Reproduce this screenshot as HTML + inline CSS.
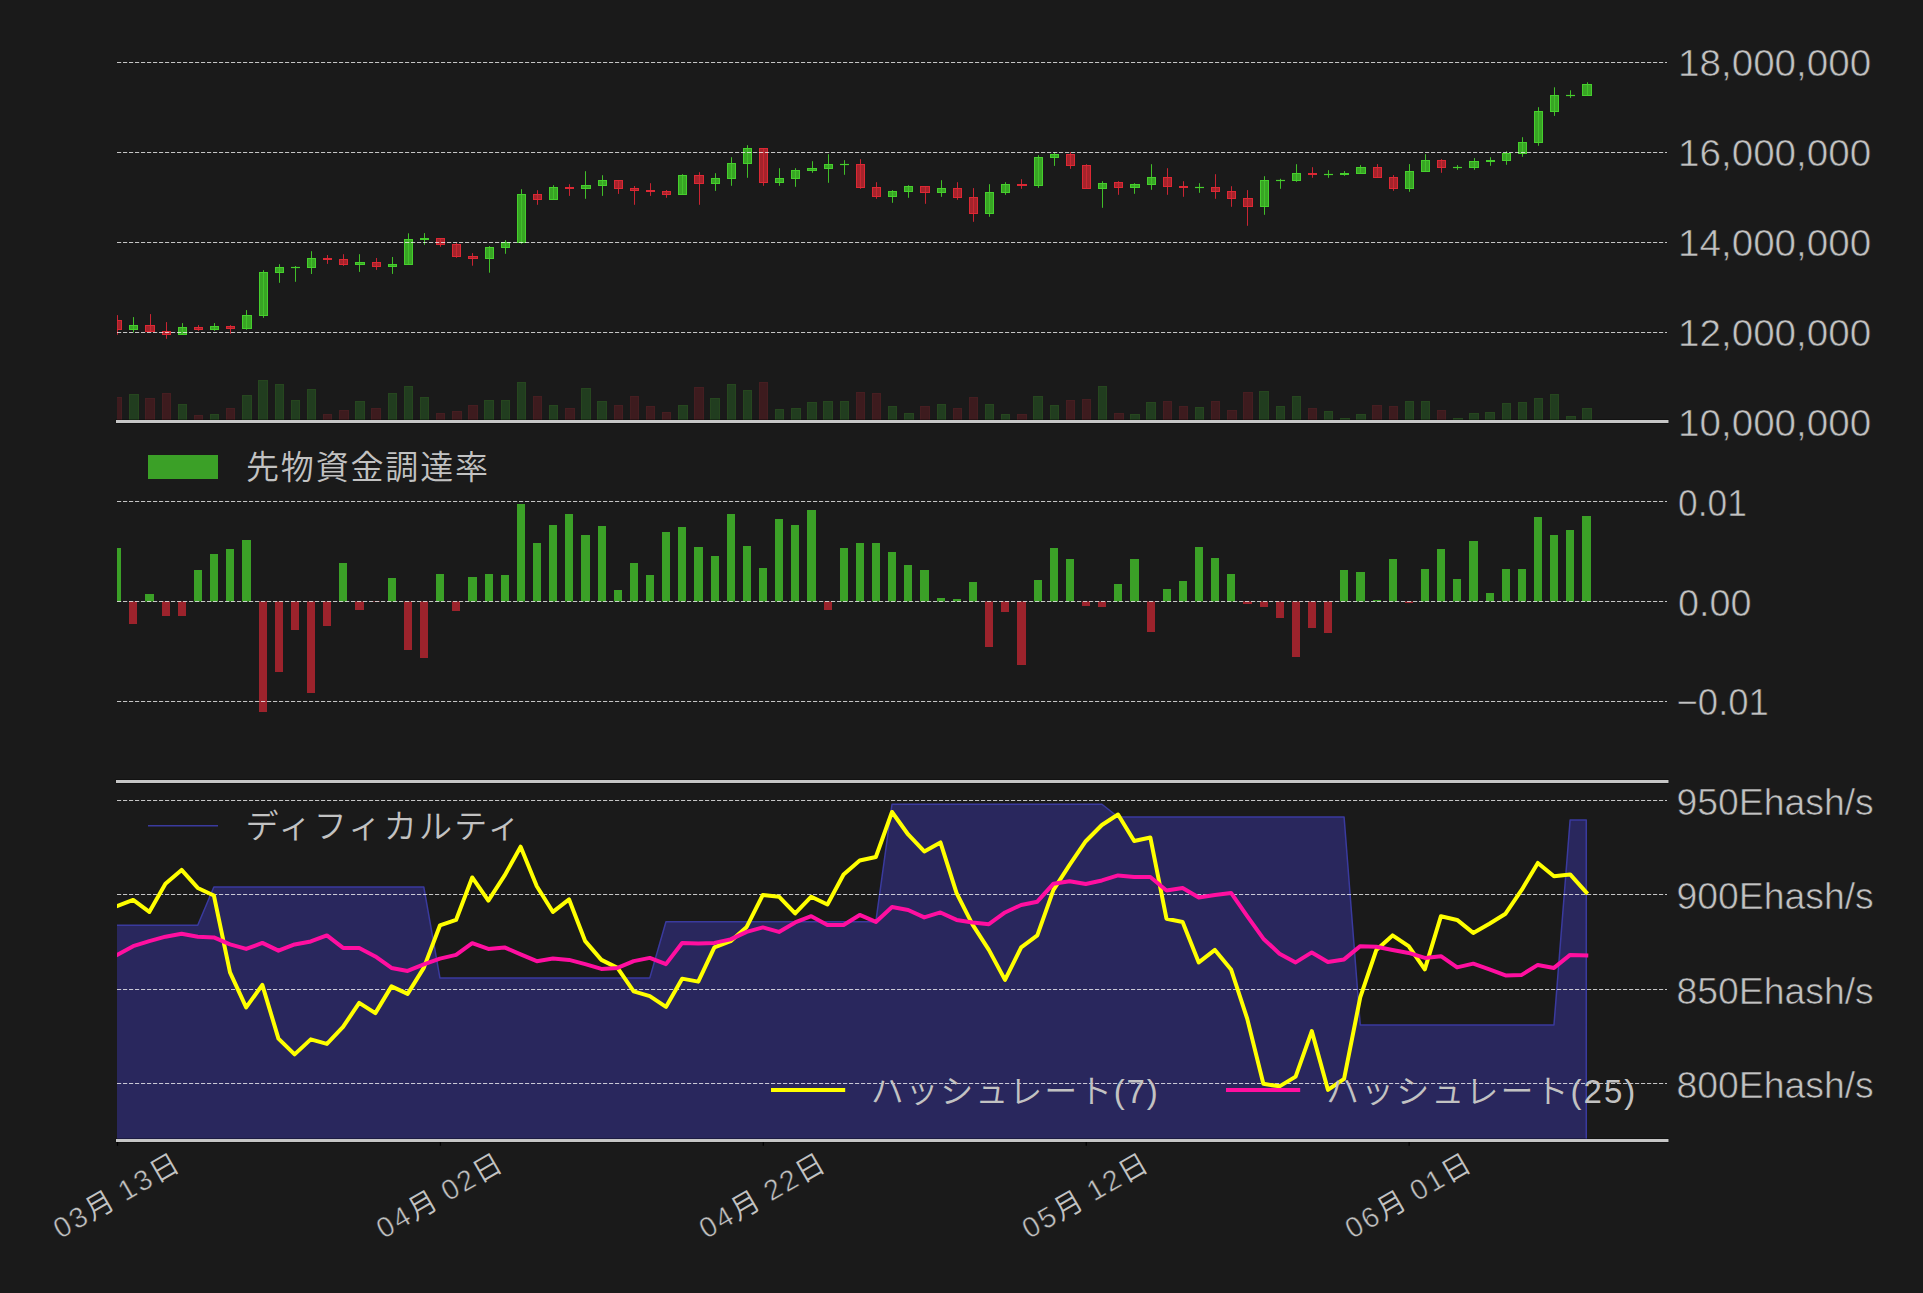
<!DOCTYPE html>
<html lang="ja"><head><meta charset="utf-8"><title>chart</title>
<style>html,body{margin:0;padding:0;background:#1a1a1a;overflow:hidden}svg{display:block}text{font-family:"Liberation Sans", "Noto Sans CJK JP DemiLight", "Noto Sans CJK JP", sans-serif;fill:#c2c2c2}</style>
</head><body>
<svg width="1923" height="1293" viewBox="0 0 1923 1293">
<rect width="1923" height="1293" fill="#1a1a1a"/>
<defs><clipPath id="cp"><rect x="117.0" y="0" width="1550.0" height="1293"/></clipPath></defs>
<g clip-path="url(#cp)">
<rect x="113.5" y="397.5" width="8" height="24.5" fill="#3d1b1e" stroke="#451e21" stroke-width="1"/>
<rect x="129.5" y="394.5" width="9" height="27.5" fill="#213d1f" stroke="#26461f" stroke-width="1"/>
<rect x="145.5" y="398.5" width="9" height="23.5" fill="#3d1b1e" stroke="#451e21" stroke-width="1"/>
<rect x="162.5" y="393.5" width="8" height="28.5" fill="#3d1b1e" stroke="#451e21" stroke-width="1"/>
<rect x="178.5" y="404.5" width="8" height="17.5" fill="#213d1f" stroke="#26461f" stroke-width="1"/>
<rect x="194.5" y="415.5" width="8" height="6.5" fill="#3d1b1e" stroke="#451e21" stroke-width="1"/>
<rect x="210.5" y="414.5" width="8" height="7.5" fill="#213d1f" stroke="#26461f" stroke-width="1"/>
<rect x="226.5" y="408.5" width="8" height="13.5" fill="#3d1b1e" stroke="#451e21" stroke-width="1"/>
<rect x="242.5" y="395.5" width="9" height="26.5" fill="#213d1f" stroke="#26461f" stroke-width="1"/>
<rect x="258.5" y="380.5" width="9" height="41.5" fill="#213d1f" stroke="#26461f" stroke-width="1"/>
<rect x="275.5" y="384.5" width="8" height="37.5" fill="#213d1f" stroke="#26461f" stroke-width="1"/>
<rect x="291.5" y="400.5" width="8" height="21.5" fill="#213d1f" stroke="#26461f" stroke-width="1"/>
<rect x="307.5" y="389.5" width="8" height="32.5" fill="#213d1f" stroke="#26461f" stroke-width="1"/>
<rect x="323.5" y="414.5" width="8" height="7.5" fill="#3d1b1e" stroke="#451e21" stroke-width="1"/>
<rect x="339.5" y="410.5" width="9" height="11.5" fill="#3d1b1e" stroke="#451e21" stroke-width="1"/>
<rect x="355.5" y="401.5" width="9" height="20.5" fill="#213d1f" stroke="#26461f" stroke-width="1"/>
<rect x="371.5" y="408.5" width="9" height="13.5" fill="#3d1b1e" stroke="#451e21" stroke-width="1"/>
<rect x="388.5" y="393.5" width="8" height="28.5" fill="#213d1f" stroke="#26461f" stroke-width="1"/>
<rect x="404.5" y="386.5" width="8" height="35.5" fill="#213d1f" stroke="#26461f" stroke-width="1"/>
<rect x="420.5" y="397.5" width="8" height="24.5" fill="#213d1f" stroke="#26461f" stroke-width="1"/>
<rect x="436.5" y="413.5" width="8" height="8.5" fill="#3d1b1e" stroke="#451e21" stroke-width="1"/>
<rect x="452.5" y="411.5" width="9" height="10.5" fill="#3d1b1e" stroke="#451e21" stroke-width="1"/>
<rect x="468.5" y="405.5" width="9" height="16.5" fill="#3d1b1e" stroke="#451e21" stroke-width="1"/>
<rect x="484.5" y="400.5" width="9" height="21.5" fill="#213d1f" stroke="#26461f" stroke-width="1"/>
<rect x="501.5" y="400.5" width="8" height="21.5" fill="#213d1f" stroke="#26461f" stroke-width="1"/>
<rect x="517.5" y="382.5" width="8" height="39.5" fill="#213d1f" stroke="#26461f" stroke-width="1"/>
<rect x="533.5" y="396.5" width="8" height="25.5" fill="#3d1b1e" stroke="#451e21" stroke-width="1"/>
<rect x="549.5" y="405.5" width="8" height="16.5" fill="#213d1f" stroke="#26461f" stroke-width="1"/>
<rect x="565.5" y="408.5" width="9" height="13.5" fill="#3d1b1e" stroke="#451e21" stroke-width="1"/>
<rect x="581.5" y="388.5" width="9" height="33.5" fill="#213d1f" stroke="#26461f" stroke-width="1"/>
<rect x="597.5" y="401.5" width="9" height="20.5" fill="#213d1f" stroke="#26461f" stroke-width="1"/>
<rect x="614.5" y="405.5" width="8" height="16.5" fill="#3d1b1e" stroke="#451e21" stroke-width="1"/>
<rect x="630.5" y="396.5" width="8" height="25.5" fill="#3d1b1e" stroke="#451e21" stroke-width="1"/>
<rect x="646.5" y="406.5" width="8" height="15.5" fill="#3d1b1e" stroke="#451e21" stroke-width="1"/>
<rect x="662.5" y="412.5" width="8" height="9.5" fill="#3d1b1e" stroke="#451e21" stroke-width="1"/>
<rect x="678.5" y="405.5" width="9" height="16.5" fill="#213d1f" stroke="#26461f" stroke-width="1"/>
<rect x="694.5" y="387.5" width="9" height="34.5" fill="#3d1b1e" stroke="#451e21" stroke-width="1"/>
<rect x="710.5" y="398.5" width="9" height="23.5" fill="#213d1f" stroke="#26461f" stroke-width="1"/>
<rect x="727.5" y="384.5" width="8" height="37.5" fill="#213d1f" stroke="#26461f" stroke-width="1"/>
<rect x="743.5" y="390.5" width="8" height="31.5" fill="#213d1f" stroke="#26461f" stroke-width="1"/>
<rect x="759.5" y="382.5" width="8" height="39.5" fill="#3d1b1e" stroke="#451e21" stroke-width="1"/>
<rect x="775.5" y="409.5" width="8" height="12.5" fill="#213d1f" stroke="#26461f" stroke-width="1"/>
<rect x="791.5" y="408.5" width="9" height="13.5" fill="#213d1f" stroke="#26461f" stroke-width="1"/>
<rect x="807.5" y="402.5" width="9" height="19.5" fill="#213d1f" stroke="#26461f" stroke-width="1"/>
<rect x="823.5" y="401.5" width="9" height="20.5" fill="#213d1f" stroke="#26461f" stroke-width="1"/>
<rect x="840.5" y="401.5" width="8" height="20.5" fill="#213d1f" stroke="#26461f" stroke-width="1"/>
<rect x="856.5" y="392.5" width="8" height="29.5" fill="#3d1b1e" stroke="#451e21" stroke-width="1"/>
<rect x="872.5" y="393.5" width="8" height="28.5" fill="#3d1b1e" stroke="#451e21" stroke-width="1"/>
<rect x="888.5" y="406.5" width="8" height="15.5" fill="#213d1f" stroke="#26461f" stroke-width="1"/>
<rect x="904.5" y="413.5" width="9" height="8.5" fill="#213d1f" stroke="#26461f" stroke-width="1"/>
<rect x="920.5" y="406.5" width="9" height="15.5" fill="#3d1b1e" stroke="#451e21" stroke-width="1"/>
<rect x="937.5" y="404.5" width="8" height="17.5" fill="#213d1f" stroke="#26461f" stroke-width="1"/>
<rect x="953.5" y="408.5" width="8" height="13.5" fill="#3d1b1e" stroke="#451e21" stroke-width="1"/>
<rect x="969.5" y="397.5" width="8" height="24.5" fill="#3d1b1e" stroke="#451e21" stroke-width="1"/>
<rect x="985.5" y="404.5" width="8" height="17.5" fill="#213d1f" stroke="#26461f" stroke-width="1"/>
<rect x="1001.5" y="414.5" width="8" height="7.5" fill="#213d1f" stroke="#26461f" stroke-width="1"/>
<rect x="1017.5" y="414.5" width="9" height="7.5" fill="#3d1b1e" stroke="#451e21" stroke-width="1"/>
<rect x="1033.5" y="396.5" width="9" height="25.5" fill="#213d1f" stroke="#26461f" stroke-width="1"/>
<rect x="1050.5" y="405.5" width="8" height="16.5" fill="#213d1f" stroke="#26461f" stroke-width="1"/>
<rect x="1066.5" y="400.5" width="8" height="21.5" fill="#3d1b1e" stroke="#451e21" stroke-width="1"/>
<rect x="1082.5" y="399.5" width="8" height="22.5" fill="#3d1b1e" stroke="#451e21" stroke-width="1"/>
<rect x="1098.5" y="386.5" width="8" height="35.5" fill="#213d1f" stroke="#26461f" stroke-width="1"/>
<rect x="1114.5" y="413.5" width="9" height="8.5" fill="#3d1b1e" stroke="#451e21" stroke-width="1"/>
<rect x="1130.5" y="414.5" width="9" height="7.5" fill="#213d1f" stroke="#26461f" stroke-width="1"/>
<rect x="1146.5" y="402.5" width="9" height="19.5" fill="#213d1f" stroke="#26461f" stroke-width="1"/>
<rect x="1163.5" y="401.5" width="8" height="20.5" fill="#3d1b1e" stroke="#451e21" stroke-width="1"/>
<rect x="1179.5" y="406.5" width="8" height="15.5" fill="#3d1b1e" stroke="#451e21" stroke-width="1"/>
<rect x="1195.5" y="407.5" width="8" height="14.5" fill="#213d1f" stroke="#26461f" stroke-width="1"/>
<rect x="1211.5" y="401.5" width="8" height="20.5" fill="#3d1b1e" stroke="#451e21" stroke-width="1"/>
<rect x="1227.5" y="410.5" width="9" height="11.5" fill="#3d1b1e" stroke="#451e21" stroke-width="1"/>
<rect x="1243.5" y="392.5" width="9" height="29.5" fill="#3d1b1e" stroke="#451e21" stroke-width="1"/>
<rect x="1259.5" y="391.5" width="9" height="30.5" fill="#213d1f" stroke="#26461f" stroke-width="1"/>
<rect x="1276.5" y="406.5" width="8" height="15.5" fill="#213d1f" stroke="#26461f" stroke-width="1"/>
<rect x="1292.5" y="396.5" width="8" height="25.5" fill="#213d1f" stroke="#26461f" stroke-width="1"/>
<rect x="1308.5" y="408.5" width="8" height="13.5" fill="#3d1b1e" stroke="#451e21" stroke-width="1"/>
<rect x="1324.5" y="411.5" width="8" height="10.5" fill="#213d1f" stroke="#26461f" stroke-width="1"/>
<rect x="1340.5" y="418.5" width="9" height="3.5" fill="#213d1f" stroke="#26461f" stroke-width="1"/>
<rect x="1356.5" y="414.5" width="9" height="7.5" fill="#213d1f" stroke="#26461f" stroke-width="1"/>
<rect x="1372.5" y="405.5" width="9" height="16.5" fill="#3d1b1e" stroke="#451e21" stroke-width="1"/>
<rect x="1389.5" y="406.5" width="8" height="15.5" fill="#3d1b1e" stroke="#451e21" stroke-width="1"/>
<rect x="1405.5" y="401.5" width="8" height="20.5" fill="#213d1f" stroke="#26461f" stroke-width="1"/>
<rect x="1421.5" y="401.5" width="8" height="20.5" fill="#213d1f" stroke="#26461f" stroke-width="1"/>
<rect x="1437.5" y="410.5" width="8" height="11.5" fill="#3d1b1e" stroke="#451e21" stroke-width="1"/>
<rect x="1453.5" y="418.5" width="9" height="3.5" fill="#213d1f" stroke="#26461f" stroke-width="1"/>
<rect x="1469.5" y="413.5" width="9" height="8.5" fill="#213d1f" stroke="#26461f" stroke-width="1"/>
<rect x="1485.5" y="412.5" width="9" height="9.5" fill="#213d1f" stroke="#26461f" stroke-width="1"/>
<rect x="1502.5" y="403.5" width="8" height="18.5" fill="#213d1f" stroke="#26461f" stroke-width="1"/>
<rect x="1518.5" y="402.5" width="8" height="19.5" fill="#213d1f" stroke="#26461f" stroke-width="1"/>
<rect x="1534.5" y="398.5" width="8" height="23.5" fill="#213d1f" stroke="#26461f" stroke-width="1"/>
<rect x="1550.5" y="394.5" width="8" height="27.5" fill="#213d1f" stroke="#26461f" stroke-width="1"/>
<rect x="1566.5" y="416.5" width="9" height="5.5" fill="#213d1f" stroke="#26461f" stroke-width="1"/>
<rect x="1582.5" y="408.5" width="9" height="13.5" fill="#213d1f" stroke="#26461f" stroke-width="1"/>
<path d="M117.5 315.1V334.8" stroke="#c82432" stroke-width="1"/>
<rect x="113.5" y="320.5" width="8.0" height="9.0" fill="#a5232b" stroke="#dc2834" stroke-width="1"/>
<path d="M117.5 320.5V329.5" stroke="#dc2834" stroke-width="1" opacity="0.7"/>
<path d="M133.5 317.1V332.4" stroke="#41be29" stroke-width="1"/>
<rect x="129.5" y="325.5" width="8.0" height="4.0" fill="#38a524" stroke="#46ce2d" stroke-width="1"/>
<path d="M133.5 325.5V329.5" stroke="#46ce2d" stroke-width="1" opacity="0.7"/>
<path d="M150.5 314.1V331.8" stroke="#c82432" stroke-width="1"/>
<rect x="145.5" y="325.5" width="9.0" height="6.0" fill="#a5232b" stroke="#dc2834" stroke-width="1"/>
<path d="M150.5 325.5V331.5" stroke="#dc2834" stroke-width="1" opacity="0.7"/>
<path d="M166.5 322.1V338.8" stroke="#c82432" stroke-width="1"/>
<rect x="162.5" y="331.5" width="8.0" height="3.0" fill="#a5232b" stroke="#dc2834" stroke-width="1"/>
<path d="M166.5 331.5V334.5" stroke="#dc2834" stroke-width="1" opacity="0.7"/>
<path d="M182.5 323.1V334.8" stroke="#41be29" stroke-width="1"/>
<rect x="178.5" y="327.5" width="8.0" height="7.0" fill="#38a524" stroke="#46ce2d" stroke-width="1"/>
<path d="M182.5 327.5V334.5" stroke="#46ce2d" stroke-width="1" opacity="0.7"/>
<path d="M198.5 325.1V330.8" stroke="#c82432" stroke-width="1"/>
<rect x="194.5" y="327.5" width="8.0" height="2.0" fill="#a5232b" stroke="#dc2834" stroke-width="1"/>
<path d="M198.5 327.5V329.5" stroke="#dc2834" stroke-width="1" opacity="0.7"/>
<path d="M214.5 323.1V330.8" stroke="#41be29" stroke-width="1"/>
<rect x="210.5" y="326.5" width="8.0" height="3.0" fill="#38a524" stroke="#46ce2d" stroke-width="1"/>
<path d="M214.5 326.5V329.5" stroke="#46ce2d" stroke-width="1" opacity="0.7"/>
<path d="M230.5 325.1V333.8" stroke="#c82432" stroke-width="1"/>
<rect x="226.5" y="326.5" width="8.0" height="2.0" fill="#a5232b" stroke="#dc2834" stroke-width="1"/>
<path d="M230.5 326.5V328.5" stroke="#dc2834" stroke-width="1" opacity="0.7"/>
<path d="M246.5 310.1V329.8" stroke="#41be29" stroke-width="1"/>
<rect x="242.5" y="315.5" width="9.0" height="13.0" fill="#38a524" stroke="#46ce2d" stroke-width="1"/>
<path d="M246.5 315.5V328.5" stroke="#46ce2d" stroke-width="1" opacity="0.7"/>
<path d="M263.5 270.2V317.8" stroke="#41be29" stroke-width="1"/>
<rect x="259.5" y="272.5" width="8.0" height="43.0" fill="#38a524" stroke="#46ce2d" stroke-width="1"/>
<path d="M263.5 272.5V315.5" stroke="#46ce2d" stroke-width="1" opacity="0.7"/>
<path d="M279.5 264.2V282.8" stroke="#41be29" stroke-width="1"/>
<rect x="275.5" y="267.5" width="8.0" height="5.0" fill="#38a524" stroke="#46ce2d" stroke-width="1"/>
<path d="M279.5 267.5V272.5" stroke="#46ce2d" stroke-width="1" opacity="0.7"/>
<path d="M295.5 266.0V281.8" stroke="#41be29" stroke-width="1"/>
<path d="M291.0 267.5H300.0" stroke="#46ce2d" stroke-width="1.2"/>
<path d="M311.5 251.2V274.0" stroke="#41be29" stroke-width="1"/>
<rect x="307.5" y="258.5" width="8.0" height="9.0" fill="#38a524" stroke="#46ce2d" stroke-width="1"/>
<path d="M311.5 258.5V267.5" stroke="#46ce2d" stroke-width="1" opacity="0.7"/>
<path d="M327.5 255.0V263.9" stroke="#c82432" stroke-width="1"/>
<rect x="323.5" y="258.5" width="8.0" height="1.0" fill="#a5232b" stroke="#dc2834" stroke-width="1"/>
<path d="M327.5 258.5V259.5" stroke="#dc2834" stroke-width="1" opacity="0.7"/>
<path d="M343.5 254.2V265.9" stroke="#c82432" stroke-width="1"/>
<rect x="339.5" y="259.5" width="8.0" height="5.0" fill="#a5232b" stroke="#dc2834" stroke-width="1"/>
<path d="M343.5 259.5V264.5" stroke="#dc2834" stroke-width="1" opacity="0.7"/>
<path d="M359.5 254.2V271.9" stroke="#41be29" stroke-width="1"/>
<rect x="355.5" y="262.5" width="9.0" height="2.0" fill="#38a524" stroke="#46ce2d" stroke-width="1"/>
<path d="M359.5 262.5V264.5" stroke="#46ce2d" stroke-width="1" opacity="0.7"/>
<path d="M376.5 258.0V269.9" stroke="#c82432" stroke-width="1"/>
<rect x="372.5" y="262.5" width="8.0" height="4.0" fill="#a5232b" stroke="#dc2834" stroke-width="1"/>
<path d="M376.5 262.5V266.5" stroke="#dc2834" stroke-width="1" opacity="0.7"/>
<path d="M392.5 257.0V273.9" stroke="#41be29" stroke-width="1"/>
<rect x="388.5" y="264.5" width="8.0" height="2.0" fill="#38a524" stroke="#46ce2d" stroke-width="1"/>
<path d="M392.5 264.5V266.5" stroke="#46ce2d" stroke-width="1" opacity="0.7"/>
<path d="M408.5 233.3V264.7" stroke="#41be29" stroke-width="1"/>
<rect x="404.5" y="239.5" width="8.0" height="25.0" fill="#38a524" stroke="#46ce2d" stroke-width="1"/>
<path d="M408.5 239.5V264.5" stroke="#46ce2d" stroke-width="1" opacity="0.7"/>
<path d="M424.5 233.1V244.8" stroke="#41be29" stroke-width="1"/>
<rect x="420.5" y="238.5" width="8.0" height="1.0" fill="#38a524" stroke="#46ce2d" stroke-width="1"/>
<path d="M424.5 238.5V239.5" stroke="#46ce2d" stroke-width="1" opacity="0.7"/>
<path d="M440.5 238.1V246.8" stroke="#c82432" stroke-width="1"/>
<rect x="436.5" y="238.5" width="8.0" height="6.0" fill="#a5232b" stroke="#dc2834" stroke-width="1"/>
<path d="M440.5 238.5V244.5" stroke="#dc2834" stroke-width="1" opacity="0.7"/>
<path d="M456.5 242.8V257.8" stroke="#c82432" stroke-width="1"/>
<rect x="452.5" y="244.5" width="8.0" height="12.0" fill="#a5232b" stroke="#dc2834" stroke-width="1"/>
<path d="M456.5 244.5V256.5" stroke="#dc2834" stroke-width="1" opacity="0.7"/>
<path d="M472.5 253.1V265.7" stroke="#c82432" stroke-width="1"/>
<rect x="468.5" y="256.5" width="9.0" height="2.0" fill="#a5232b" stroke="#dc2834" stroke-width="1"/>
<path d="M472.5 256.5V258.5" stroke="#dc2834" stroke-width="1" opacity="0.7"/>
<path d="M489.5 246.1V272.7" stroke="#41be29" stroke-width="1"/>
<rect x="485.5" y="247.5" width="8.0" height="11.0" fill="#38a524" stroke="#46ce2d" stroke-width="1"/>
<path d="M489.5 247.5V258.5" stroke="#46ce2d" stroke-width="1" opacity="0.7"/>
<path d="M505.5 240.1V253.8" stroke="#41be29" stroke-width="1"/>
<rect x="501.5" y="242.5" width="8.0" height="5.0" fill="#38a524" stroke="#46ce2d" stroke-width="1"/>
<path d="M505.5 242.5V247.5" stroke="#46ce2d" stroke-width="1" opacity="0.7"/>
<path d="M521.5 189.2V243.8" stroke="#41be29" stroke-width="1"/>
<rect x="517.5" y="194.5" width="8.0" height="48.0" fill="#38a524" stroke="#46ce2d" stroke-width="1"/>
<path d="M521.5 194.5V242.5" stroke="#46ce2d" stroke-width="1" opacity="0.7"/>
<path d="M537.5 190.2V204.8" stroke="#c82432" stroke-width="1"/>
<rect x="533.5" y="194.5" width="8.0" height="5.0" fill="#a5232b" stroke="#dc2834" stroke-width="1"/>
<path d="M537.5 194.5V199.5" stroke="#dc2834" stroke-width="1" opacity="0.7"/>
<path d="M553.5 185.2V199.8" stroke="#41be29" stroke-width="1"/>
<rect x="549.5" y="187.5" width="8.0" height="12.0" fill="#38a524" stroke="#46ce2d" stroke-width="1"/>
<path d="M553.5 187.5V199.5" stroke="#46ce2d" stroke-width="1" opacity="0.7"/>
<path d="M569.5 184.2V195.9" stroke="#c82432" stroke-width="1"/>
<rect x="565.5" y="187.5" width="8.0" height="1.0" fill="#a5232b" stroke="#dc2834" stroke-width="1"/>
<path d="M569.5 187.5V188.5" stroke="#dc2834" stroke-width="1" opacity="0.7"/>
<path d="M585.5 171.2V198.8" stroke="#41be29" stroke-width="1"/>
<rect x="581.5" y="185.5" width="9.0" height="3.0" fill="#38a524" stroke="#46ce2d" stroke-width="1"/>
<path d="M585.5 185.5V188.5" stroke="#46ce2d" stroke-width="1" opacity="0.7"/>
<path d="M602.5 175.2V195.9" stroke="#41be29" stroke-width="1"/>
<rect x="598.5" y="180.5" width="8.0" height="5.0" fill="#38a524" stroke="#46ce2d" stroke-width="1"/>
<path d="M602.5 180.5V185.5" stroke="#46ce2d" stroke-width="1" opacity="0.7"/>
<path d="M618.5 180.2V193.9" stroke="#c82432" stroke-width="1"/>
<rect x="614.5" y="180.5" width="8.0" height="8.0" fill="#a5232b" stroke="#dc2834" stroke-width="1"/>
<path d="M618.5 180.5V188.5" stroke="#dc2834" stroke-width="1" opacity="0.7"/>
<path d="M634.5 186.0V204.8" stroke="#c82432" stroke-width="1"/>
<rect x="630.5" y="188.5" width="8.0" height="2.0" fill="#a5232b" stroke="#dc2834" stroke-width="1"/>
<path d="M634.5 188.5V190.5" stroke="#dc2834" stroke-width="1" opacity="0.7"/>
<path d="M650.5 183.2V195.9" stroke="#c82432" stroke-width="1"/>
<rect x="646.5" y="190.5" width="8.0" height="1.0" fill="#a5232b" stroke="#dc2834" stroke-width="1"/>
<path d="M650.5 190.5V191.5" stroke="#dc2834" stroke-width="1" opacity="0.7"/>
<path d="M666.5 190.0V197.8" stroke="#c82432" stroke-width="1"/>
<rect x="662.5" y="191.5" width="8.0" height="3.0" fill="#a5232b" stroke="#dc2834" stroke-width="1"/>
<path d="M666.5 191.5V194.5" stroke="#dc2834" stroke-width="1" opacity="0.7"/>
<path d="M682.5 174.2V194.9" stroke="#41be29" stroke-width="1"/>
<rect x="678.5" y="175.5" width="8.0" height="19.0" fill="#38a524" stroke="#46ce2d" stroke-width="1"/>
<path d="M682.5 175.5V194.5" stroke="#46ce2d" stroke-width="1" opacity="0.7"/>
<path d="M699.5 172.2V204.8" stroke="#c82432" stroke-width="1"/>
<rect x="694.5" y="175.5" width="9.0" height="8.0" fill="#a5232b" stroke="#dc2834" stroke-width="1"/>
<path d="M699.5 175.5V183.5" stroke="#dc2834" stroke-width="1" opacity="0.7"/>
<path d="M715.5 173.2V190.9" stroke="#41be29" stroke-width="1"/>
<rect x="711.5" y="178.5" width="8.0" height="5.0" fill="#38a524" stroke="#46ce2d" stroke-width="1"/>
<path d="M715.5 178.5V183.5" stroke="#46ce2d" stroke-width="1" opacity="0.7"/>
<path d="M731.5 157.2V185.8" stroke="#41be29" stroke-width="1"/>
<rect x="727.5" y="163.5" width="8.0" height="15.0" fill="#38a524" stroke="#46ce2d" stroke-width="1"/>
<path d="M731.5 163.5V178.5" stroke="#46ce2d" stroke-width="1" opacity="0.7"/>
<path d="M747.5 145.2V177.8" stroke="#41be29" stroke-width="1"/>
<rect x="743.5" y="148.5" width="8.0" height="15.0" fill="#38a524" stroke="#46ce2d" stroke-width="1"/>
<path d="M747.5 148.5V163.5" stroke="#46ce2d" stroke-width="1" opacity="0.7"/>
<path d="M763.5 148.2V185.8" stroke="#c82432" stroke-width="1"/>
<rect x="759.5" y="148.5" width="8.0" height="34.0" fill="#a5232b" stroke="#dc2834" stroke-width="1"/>
<path d="M763.5 148.5V182.5" stroke="#dc2834" stroke-width="1" opacity="0.7"/>
<path d="M779.5 168.2V185.8" stroke="#41be29" stroke-width="1"/>
<rect x="775.5" y="178.5" width="8.0" height="4.0" fill="#38a524" stroke="#46ce2d" stroke-width="1"/>
<path d="M779.5 178.5V182.5" stroke="#46ce2d" stroke-width="1" opacity="0.7"/>
<path d="M795.5 168.2V186.8" stroke="#41be29" stroke-width="1"/>
<rect x="791.5" y="170.5" width="8.0" height="8.0" fill="#38a524" stroke="#46ce2d" stroke-width="1"/>
<path d="M795.5 170.5V178.5" stroke="#46ce2d" stroke-width="1" opacity="0.7"/>
<path d="M812.5 161.2V172.8" stroke="#41be29" stroke-width="1"/>
<rect x="807.5" y="168.5" width="9.0" height="2.0" fill="#38a524" stroke="#46ce2d" stroke-width="1"/>
<path d="M812.5 168.5V170.5" stroke="#46ce2d" stroke-width="1" opacity="0.7"/>
<path d="M828.5 154.2V182.8" stroke="#41be29" stroke-width="1"/>
<rect x="824.5" y="164.5" width="8.0" height="4.0" fill="#38a524" stroke="#46ce2d" stroke-width="1"/>
<path d="M828.5 164.5V168.5" stroke="#46ce2d" stroke-width="1" opacity="0.7"/>
<path d="M844.5 160.2V174.8" stroke="#41be29" stroke-width="1"/>
<path d="M840.0 164.5H849.0" stroke="#46ce2d" stroke-width="1.2"/>
<path d="M860.5 159.2V188.8" stroke="#c82432" stroke-width="1"/>
<rect x="856.5" y="164.5" width="8.0" height="23.0" fill="#a5232b" stroke="#dc2834" stroke-width="1"/>
<path d="M860.5 164.5V187.5" stroke="#dc2834" stroke-width="1" opacity="0.7"/>
<path d="M876.5 182.2V198.8" stroke="#c82432" stroke-width="1"/>
<rect x="872.5" y="187.5" width="8.0" height="9.0" fill="#a5232b" stroke="#dc2834" stroke-width="1"/>
<path d="M876.5 187.5V196.5" stroke="#dc2834" stroke-width="1" opacity="0.7"/>
<path d="M892.5 190.1V202.8" stroke="#41be29" stroke-width="1"/>
<rect x="888.5" y="191.5" width="8.0" height="5.0" fill="#38a524" stroke="#46ce2d" stroke-width="1"/>
<path d="M892.5 191.5V196.5" stroke="#46ce2d" stroke-width="1" opacity="0.7"/>
<path d="M908.5 185.2V197.8" stroke="#41be29" stroke-width="1"/>
<rect x="904.5" y="186.5" width="8.0" height="5.0" fill="#38a524" stroke="#46ce2d" stroke-width="1"/>
<path d="M908.5 186.5V191.5" stroke="#46ce2d" stroke-width="1" opacity="0.7"/>
<path d="M925.5 186.2V203.8" stroke="#c82432" stroke-width="1"/>
<rect x="920.5" y="186.5" width="9.0" height="6.0" fill="#a5232b" stroke="#dc2834" stroke-width="1"/>
<path d="M925.5 186.5V192.5" stroke="#dc2834" stroke-width="1" opacity="0.7"/>
<path d="M941.5 180.2V196.8" stroke="#41be29" stroke-width="1"/>
<rect x="937.5" y="188.5" width="8.0" height="4.0" fill="#38a524" stroke="#46ce2d" stroke-width="1"/>
<path d="M941.5 188.5V192.5" stroke="#46ce2d" stroke-width="1" opacity="0.7"/>
<path d="M957.5 182.2V199.8" stroke="#c82432" stroke-width="1"/>
<rect x="953.5" y="188.5" width="8.0" height="9.0" fill="#a5232b" stroke="#dc2834" stroke-width="1"/>
<path d="M957.5 188.5V197.5" stroke="#dc2834" stroke-width="1" opacity="0.7"/>
<path d="M973.5 188.1V221.8" stroke="#c82432" stroke-width="1"/>
<rect x="969.5" y="197.5" width="8.0" height="16.0" fill="#a5232b" stroke="#dc2834" stroke-width="1"/>
<path d="M973.5 197.5V213.5" stroke="#dc2834" stroke-width="1" opacity="0.7"/>
<path d="M989.5 184.2V216.8" stroke="#41be29" stroke-width="1"/>
<rect x="985.5" y="192.5" width="8.0" height="21.0" fill="#38a524" stroke="#46ce2d" stroke-width="1"/>
<path d="M989.5 192.5V213.5" stroke="#46ce2d" stroke-width="1" opacity="0.7"/>
<path d="M1005.5 182.2V194.8" stroke="#41be29" stroke-width="1"/>
<rect x="1001.5" y="184.5" width="8.0" height="8.0" fill="#38a524" stroke="#46ce2d" stroke-width="1"/>
<path d="M1005.5 184.5V192.5" stroke="#46ce2d" stroke-width="1" opacity="0.7"/>
<path d="M1021.5 179.2V188.8" stroke="#c82432" stroke-width="1"/>
<rect x="1017.5" y="184.5" width="9.0" height="1.0" fill="#a5232b" stroke="#dc2834" stroke-width="1"/>
<path d="M1021.5 184.5V185.5" stroke="#dc2834" stroke-width="1" opacity="0.7"/>
<path d="M1038.5 155.2V187.8" stroke="#41be29" stroke-width="1"/>
<rect x="1034.5" y="157.5" width="8.0" height="28.0" fill="#38a524" stroke="#46ce2d" stroke-width="1"/>
<path d="M1038.5 157.5V185.5" stroke="#46ce2d" stroke-width="1" opacity="0.7"/>
<path d="M1054.5 152.2V165.9" stroke="#41be29" stroke-width="1"/>
<rect x="1050.5" y="154.5" width="8.0" height="3.0" fill="#38a524" stroke="#46ce2d" stroke-width="1"/>
<path d="M1054.5 154.5V157.5" stroke="#46ce2d" stroke-width="1" opacity="0.7"/>
<path d="M1070.5 152.2V168.8" stroke="#c82432" stroke-width="1"/>
<rect x="1066.5" y="154.5" width="8.0" height="11.0" fill="#a5232b" stroke="#dc2834" stroke-width="1"/>
<path d="M1070.5 154.5V165.5" stroke="#dc2834" stroke-width="1" opacity="0.7"/>
<path d="M1086.5 164.2V188.8" stroke="#c82432" stroke-width="1"/>
<rect x="1082.5" y="165.5" width="8.0" height="23.0" fill="#a5232b" stroke="#dc2834" stroke-width="1"/>
<path d="M1086.5 165.5V188.5" stroke="#dc2834" stroke-width="1" opacity="0.7"/>
<path d="M1102.5 181.2V207.8" stroke="#41be29" stroke-width="1"/>
<rect x="1098.5" y="183.5" width="8.0" height="5.0" fill="#38a524" stroke="#46ce2d" stroke-width="1"/>
<path d="M1102.5 183.5V188.5" stroke="#46ce2d" stroke-width="1" opacity="0.7"/>
<path d="M1118.5 181.2V194.8" stroke="#c82432" stroke-width="1"/>
<rect x="1114.5" y="182.5" width="8.0" height="5.0" fill="#a5232b" stroke="#dc2834" stroke-width="1"/>
<path d="M1118.5 182.5V187.5" stroke="#dc2834" stroke-width="1" opacity="0.7"/>
<path d="M1134.5 183.2V193.8" stroke="#41be29" stroke-width="1"/>
<rect x="1130.5" y="184.5" width="9.0" height="3.0" fill="#38a524" stroke="#46ce2d" stroke-width="1"/>
<path d="M1134.5 184.5V187.5" stroke="#46ce2d" stroke-width="1" opacity="0.7"/>
<path d="M1151.5 164.2V189.8" stroke="#41be29" stroke-width="1"/>
<rect x="1147.5" y="177.5" width="8.0" height="7.0" fill="#38a524" stroke="#46ce2d" stroke-width="1"/>
<path d="M1151.5 177.5V184.5" stroke="#46ce2d" stroke-width="1" opacity="0.7"/>
<path d="M1167.5 168.2V194.8" stroke="#c82432" stroke-width="1"/>
<rect x="1163.5" y="177.5" width="8.0" height="9.0" fill="#a5232b" stroke="#dc2834" stroke-width="1"/>
<path d="M1167.5 177.5V186.5" stroke="#dc2834" stroke-width="1" opacity="0.7"/>
<path d="M1183.5 181.2V196.8" stroke="#c82432" stroke-width="1"/>
<rect x="1179.5" y="186.5" width="8.0" height="1.0" fill="#a5232b" stroke="#dc2834" stroke-width="1"/>
<path d="M1183.5 186.5V187.5" stroke="#dc2834" stroke-width="1" opacity="0.7"/>
<path d="M1199.5 183.2V192.8" stroke="#41be29" stroke-width="1"/>
<path d="M1195.0 187.5H1204.0" stroke="#46ce2d" stroke-width="1.2"/>
<path d="M1215.5 174.2V198.8" stroke="#c82432" stroke-width="1"/>
<rect x="1211.5" y="187.5" width="8.0" height="4.0" fill="#a5232b" stroke="#dc2834" stroke-width="1"/>
<path d="M1215.5 187.5V191.5" stroke="#dc2834" stroke-width="1" opacity="0.7"/>
<path d="M1231.5 186.2V206.8" stroke="#c82432" stroke-width="1"/>
<rect x="1227.5" y="191.5" width="8.0" height="7.0" fill="#a5232b" stroke="#dc2834" stroke-width="1"/>
<path d="M1231.5 191.5V198.5" stroke="#dc2834" stroke-width="1" opacity="0.7"/>
<path d="M1247.5 190.1V225.8" stroke="#c82432" stroke-width="1"/>
<rect x="1243.5" y="198.5" width="9.0" height="8.0" fill="#a5232b" stroke="#dc2834" stroke-width="1"/>
<path d="M1247.5 198.5V206.5" stroke="#dc2834" stroke-width="1" opacity="0.7"/>
<path d="M1264.5 176.2V214.8" stroke="#41be29" stroke-width="1"/>
<rect x="1260.5" y="180.5" width="8.0" height="26.0" fill="#38a524" stroke="#46ce2d" stroke-width="1"/>
<path d="M1264.5 180.5V206.5" stroke="#46ce2d" stroke-width="1" opacity="0.7"/>
<path d="M1280.5 178.8V188.8" stroke="#41be29" stroke-width="1"/>
<path d="M1276.0 180.5H1285.0" stroke="#46ce2d" stroke-width="1.2"/>
<path d="M1296.5 164.2V181.8" stroke="#41be29" stroke-width="1"/>
<rect x="1292.5" y="173.5" width="8.0" height="7.0" fill="#38a524" stroke="#46ce2d" stroke-width="1"/>
<path d="M1296.5 173.5V180.5" stroke="#46ce2d" stroke-width="1" opacity="0.7"/>
<path d="M1312.5 167.2V177.8" stroke="#c82432" stroke-width="1"/>
<rect x="1308.5" y="173.5" width="8.0" height="1.0" fill="#a5232b" stroke="#dc2834" stroke-width="1"/>
<path d="M1312.5 173.5V174.5" stroke="#dc2834" stroke-width="1" opacity="0.7"/>
<path d="M1328.5 170.2V177.8" stroke="#41be29" stroke-width="1"/>
<path d="M1324.0 174.5H1333.0" stroke="#46ce2d" stroke-width="1.2"/>
<path d="M1344.5 171.1V175.8" stroke="#41be29" stroke-width="1"/>
<rect x="1340.5" y="173.5" width="8.0" height="1.0" fill="#38a524" stroke="#46ce2d" stroke-width="1"/>
<path d="M1344.5 173.5V174.5" stroke="#46ce2d" stroke-width="1" opacity="0.7"/>
<path d="M1360.5 165.1V173.8" stroke="#41be29" stroke-width="1"/>
<rect x="1356.5" y="167.5" width="9.0" height="6.0" fill="#38a524" stroke="#46ce2d" stroke-width="1"/>
<path d="M1360.5 167.5V173.5" stroke="#46ce2d" stroke-width="1" opacity="0.7"/>
<path d="M1377.5 164.1V177.8" stroke="#c82432" stroke-width="1"/>
<rect x="1373.5" y="167.5" width="8.0" height="10.0" fill="#a5232b" stroke="#dc2834" stroke-width="1"/>
<path d="M1377.5 167.5V177.5" stroke="#dc2834" stroke-width="1" opacity="0.7"/>
<path d="M1393.5 175.1V190.8" stroke="#c82432" stroke-width="1"/>
<rect x="1389.5" y="177.5" width="8.0" height="11.0" fill="#a5232b" stroke="#dc2834" stroke-width="1"/>
<path d="M1393.5 177.5V188.5" stroke="#dc2834" stroke-width="1" opacity="0.7"/>
<path d="M1409.5 164.1V191.8" stroke="#41be29" stroke-width="1"/>
<rect x="1405.5" y="171.5" width="8.0" height="17.0" fill="#38a524" stroke="#46ce2d" stroke-width="1"/>
<path d="M1409.5 171.5V188.5" stroke="#46ce2d" stroke-width="1" opacity="0.7"/>
<path d="M1425.5 154.2V171.8" stroke="#41be29" stroke-width="1"/>
<rect x="1421.5" y="160.5" width="8.0" height="11.0" fill="#38a524" stroke="#46ce2d" stroke-width="1"/>
<path d="M1425.5 160.5V171.5" stroke="#46ce2d" stroke-width="1" opacity="0.7"/>
<path d="M1441.5 159.1V172.8" stroke="#c82432" stroke-width="1"/>
<rect x="1437.5" y="160.5" width="8.0" height="7.0" fill="#a5232b" stroke="#dc2834" stroke-width="1"/>
<path d="M1441.5 160.5V167.5" stroke="#dc2834" stroke-width="1" opacity="0.7"/>
<path d="M1457.5 165.1V169.8" stroke="#41be29" stroke-width="1"/>
<path d="M1453.0 167.5H1462.0" stroke="#46ce2d" stroke-width="1.2"/>
<path d="M1474.5 158.1V169.8" stroke="#41be29" stroke-width="1"/>
<rect x="1469.5" y="161.5" width="9.0" height="6.0" fill="#38a524" stroke="#46ce2d" stroke-width="1"/>
<path d="M1474.5 161.5V167.5" stroke="#46ce2d" stroke-width="1" opacity="0.7"/>
<path d="M1490.5 157.2V165.8" stroke="#41be29" stroke-width="1"/>
<rect x="1486.5" y="160.5" width="8.0" height="1.0" fill="#38a524" stroke="#46ce2d" stroke-width="1"/>
<path d="M1490.5 160.5V161.5" stroke="#46ce2d" stroke-width="1" opacity="0.7"/>
<path d="M1506.5 151.2V164.8" stroke="#41be29" stroke-width="1"/>
<rect x="1502.5" y="153.5" width="8.0" height="7.0" fill="#38a524" stroke="#46ce2d" stroke-width="1"/>
<path d="M1506.5 153.5V160.5" stroke="#46ce2d" stroke-width="1" opacity="0.7"/>
<path d="M1522.5 137.2V156.8" stroke="#41be29" stroke-width="1"/>
<rect x="1518.5" y="142.5" width="8.0" height="11.0" fill="#38a524" stroke="#46ce2d" stroke-width="1"/>
<path d="M1522.5 142.5V153.5" stroke="#46ce2d" stroke-width="1" opacity="0.7"/>
<path d="M1538.5 107.2V145.8" stroke="#41be29" stroke-width="1"/>
<rect x="1534.5" y="111.5" width="8.0" height="31.0" fill="#38a524" stroke="#46ce2d" stroke-width="1"/>
<path d="M1538.5 111.5V142.5" stroke="#46ce2d" stroke-width="1" opacity="0.7"/>
<path d="M1554.5 87.3V115.9" stroke="#41be29" stroke-width="1"/>
<rect x="1550.5" y="95.5" width="8.0" height="16.0" fill="#38a524" stroke="#46ce2d" stroke-width="1"/>
<path d="M1554.5 95.5V111.5" stroke="#46ce2d" stroke-width="1" opacity="0.7"/>
<path d="M1570.5 90.3V97.9" stroke="#41be29" stroke-width="1"/>
<path d="M1566.0 95.5H1575.0" stroke="#46ce2d" stroke-width="1.2"/>
<path d="M1587.5 82.3V95.9" stroke="#41be29" stroke-width="1"/>
<rect x="1582.5" y="84.5" width="9.0" height="11.0" fill="#38a524" stroke="#46ce2d" stroke-width="1"/>
<path d="M1587.5 84.5V95.5" stroke="#46ce2d" stroke-width="1" opacity="0.7"/>
</g>
<path d="M117.0 62.50H1667.0" stroke="#fff" stroke-opacity="0.75" stroke-width="1" stroke-dasharray="4.2 1.8" fill="none"/>
<path d="M117.0 152.50H1667.0" stroke="#fff" stroke-opacity="0.75" stroke-width="1" stroke-dasharray="4.2 1.8" fill="none"/>
<path d="M117.0 242.50H1667.0" stroke="#fff" stroke-opacity="0.75" stroke-width="1" stroke-dasharray="4.2 1.8" fill="none"/>
<path d="M117.0 332.50H1667.0" stroke="#fff" stroke-opacity="0.75" stroke-width="1" stroke-dasharray="4.2 1.8" fill="none"/>
<g clip-path="url(#cp)">
<rect x="113" y="548" width="8" height="53.5" fill="#3ba027"/>
<rect x="129" y="601.5" width="8" height="22.5" fill="#9c232c"/>
<rect x="145" y="594" width="9" height="7.5" fill="#3ba027"/>
<rect x="162" y="601.5" width="8" height="14.5" fill="#9c232c"/>
<rect x="178" y="601.5" width="8" height="14.5" fill="#9c232c"/>
<rect x="194" y="570" width="8" height="31.5" fill="#3ba027"/>
<rect x="210" y="554" width="8" height="47.5" fill="#3ba027"/>
<rect x="226" y="549" width="8" height="52.5" fill="#3ba027"/>
<rect x="242" y="540" width="9" height="61.5" fill="#3ba027"/>
<rect x="259" y="601.5" width="8" height="110.5" fill="#9c232c"/>
<rect x="275" y="601.5" width="8" height="70.5" fill="#9c232c"/>
<rect x="291" y="601.5" width="8" height="28.5" fill="#9c232c"/>
<rect x="307" y="601.5" width="8" height="91.5" fill="#9c232c"/>
<rect x="323" y="601.5" width="8" height="24.5" fill="#9c232c"/>
<rect x="339" y="563" width="8" height="38.5" fill="#3ba027"/>
<rect x="355" y="601.5" width="9" height="8.5" fill="#9c232c"/>
<rect x="372" y="601.5" width="8" height="0.5" fill="#9c232c"/>
<rect x="388" y="578" width="8" height="23.5" fill="#3ba027"/>
<rect x="404" y="601.5" width="8" height="48.5" fill="#9c232c"/>
<rect x="420" y="601.5" width="8" height="56.5" fill="#9c232c"/>
<rect x="436" y="574" width="8" height="27.5" fill="#3ba027"/>
<rect x="452" y="601.5" width="8" height="9.5" fill="#9c232c"/>
<rect x="468" y="577" width="9" height="24.5" fill="#3ba027"/>
<rect x="485" y="574" width="8" height="27.5" fill="#3ba027"/>
<rect x="501" y="575" width="8" height="26.5" fill="#3ba027"/>
<rect x="517" y="504" width="8" height="97.5" fill="#3ba027"/>
<rect x="533" y="543" width="8" height="58.5" fill="#3ba027"/>
<rect x="549" y="525" width="8" height="76.5" fill="#3ba027"/>
<rect x="565" y="514" width="8" height="87.5" fill="#3ba027"/>
<rect x="581" y="535" width="9" height="66.5" fill="#3ba027"/>
<rect x="598" y="526" width="8" height="75.5" fill="#3ba027"/>
<rect x="614" y="590" width="8" height="11.5" fill="#3ba027"/>
<rect x="630" y="563" width="8" height="38.5" fill="#3ba027"/>
<rect x="646" y="575" width="8" height="26.5" fill="#3ba027"/>
<rect x="662" y="532" width="8" height="69.5" fill="#3ba027"/>
<rect x="678" y="527" width="8" height="74.5" fill="#3ba027"/>
<rect x="694" y="547" width="9" height="54.5" fill="#3ba027"/>
<rect x="711" y="556" width="8" height="45.5" fill="#3ba027"/>
<rect x="727" y="514" width="8" height="87.5" fill="#3ba027"/>
<rect x="743" y="546" width="8" height="55.5" fill="#3ba027"/>
<rect x="759" y="568" width="8" height="33.5" fill="#3ba027"/>
<rect x="775" y="519" width="8" height="82.5" fill="#3ba027"/>
<rect x="791" y="525" width="8" height="76.5" fill="#3ba027"/>
<rect x="807" y="510" width="9" height="91.5" fill="#3ba027"/>
<rect x="824" y="601.5" width="8" height="8.5" fill="#9c232c"/>
<rect x="840" y="548" width="8" height="53.5" fill="#3ba027"/>
<rect x="856" y="543" width="8" height="58.5" fill="#3ba027"/>
<rect x="872" y="543" width="8" height="58.5" fill="#3ba027"/>
<rect x="888" y="552" width="8" height="49.5" fill="#3ba027"/>
<rect x="904" y="565" width="8" height="36.5" fill="#3ba027"/>
<rect x="920" y="570" width="9" height="31.5" fill="#3ba027"/>
<rect x="937" y="598" width="8" height="3.5" fill="#3ba027"/>
<rect x="953" y="599" width="8" height="2.5" fill="#3ba027"/>
<rect x="969" y="582" width="8" height="19.5" fill="#3ba027"/>
<rect x="985" y="601.5" width="8" height="45.5" fill="#9c232c"/>
<rect x="1001" y="601.5" width="8" height="10.5" fill="#9c232c"/>
<rect x="1017" y="601.5" width="9" height="63.5" fill="#9c232c"/>
<rect x="1034" y="580" width="8" height="21.5" fill="#3ba027"/>
<rect x="1050" y="548" width="8" height="53.5" fill="#3ba027"/>
<rect x="1066" y="559" width="8" height="42.5" fill="#3ba027"/>
<rect x="1082" y="601.5" width="8" height="4.5" fill="#9c232c"/>
<rect x="1098" y="601.5" width="8" height="5.5" fill="#9c232c"/>
<rect x="1114" y="584" width="8" height="17.5" fill="#3ba027"/>
<rect x="1130" y="559" width="9" height="42.5" fill="#3ba027"/>
<rect x="1147" y="601.5" width="8" height="30.5" fill="#9c232c"/>
<rect x="1163" y="589" width="8" height="12.5" fill="#3ba027"/>
<rect x="1179" y="581" width="8" height="20.5" fill="#3ba027"/>
<rect x="1195" y="547" width="8" height="54.5" fill="#3ba027"/>
<rect x="1211" y="558" width="8" height="43.5" fill="#3ba027"/>
<rect x="1227" y="574" width="8" height="27.5" fill="#3ba027"/>
<rect x="1243" y="601.5" width="9" height="2.5" fill="#9c232c"/>
<rect x="1260" y="601.5" width="8" height="5.5" fill="#9c232c"/>
<rect x="1276" y="601.5" width="8" height="16.5" fill="#9c232c"/>
<rect x="1292" y="601.5" width="8" height="55.5" fill="#9c232c"/>
<rect x="1308" y="601.5" width="8" height="26.5" fill="#9c232c"/>
<rect x="1324" y="601.5" width="8" height="31.5" fill="#9c232c"/>
<rect x="1340" y="570" width="8" height="31.5" fill="#3ba027"/>
<rect x="1356" y="572" width="9" height="29.5" fill="#3ba027"/>
<rect x="1373" y="600" width="8" height="1.5" fill="#3ba027"/>
<rect x="1389" y="559" width="8" height="42.5" fill="#3ba027"/>
<rect x="1405" y="601.5" width="8" height="1.5" fill="#9c232c"/>
<rect x="1421" y="569" width="8" height="32.5" fill="#3ba027"/>
<rect x="1437" y="549" width="8" height="52.5" fill="#3ba027"/>
<rect x="1453" y="579" width="8" height="22.5" fill="#3ba027"/>
<rect x="1469" y="541" width="9" height="60.5" fill="#3ba027"/>
<rect x="1486" y="593" width="8" height="8.5" fill="#3ba027"/>
<rect x="1502" y="569" width="8" height="32.5" fill="#3ba027"/>
<rect x="1518" y="569" width="8" height="32.5" fill="#3ba027"/>
<rect x="1534" y="517" width="8" height="84.5" fill="#3ba027"/>
<rect x="1550" y="535" width="8" height="66.5" fill="#3ba027"/>
<rect x="1566" y="530" width="8" height="71.5" fill="#3ba027"/>
<rect x="1582" y="516" width="9" height="85.5" fill="#3ba027"/>
</g>
<path d="M117.0 501.50H1667.0" stroke="#fff" stroke-opacity="0.75" stroke-width="1" stroke-dasharray="4.2 1.8" fill="none"/>
<path d="M117.0 601.50H1667.0" stroke="#fff" stroke-opacity="0.75" stroke-width="1" stroke-dasharray="4.2 1.8" fill="none"/>
<path d="M117.0 701.50H1667.0" stroke="#fff" stroke-opacity="0.75" stroke-width="1" stroke-dasharray="4.2 1.8" fill="none"/>
<rect x="148" y="455" width="70" height="24" fill="#3ba027"/>
<g clip-path="url(#cp)">
<path d="M117.00 1140.50L117.00 925.18L133.15 925.18L149.29 925.18L165.44 925.18L181.58 925.18L197.73 925.18L213.87 886.95L230.02 886.95L246.17 886.95L262.31 886.95L278.46 886.95L294.60 886.95L310.75 886.95L326.90 886.95L343.04 886.95L359.19 886.95L375.33 886.95L391.48 886.95L407.62 886.95L423.77 886.95L439.92 977.90L456.06 977.90L472.21 977.90L488.35 977.90L504.50 977.90L520.64 977.90L536.79 977.90L552.94 977.90L569.08 977.90L585.23 977.90L601.37 977.90L617.52 977.90L633.67 977.90L649.81 977.90L665.96 921.68L682.10 921.68L698.25 921.68L714.39 921.68L730.54 921.68L746.69 921.68L762.83 921.68L778.98 921.68L795.12 921.68L811.27 921.68L827.42 921.68L843.56 921.68L859.71 921.68L875.85 921.68L892.00 804.24L908.14 804.24L924.29 804.24L940.44 804.24L956.58 804.24L972.73 804.24L988.87 804.24L1005.02 804.24L1021.16 804.24L1037.31 804.24L1053.46 804.24L1069.60 804.24L1085.75 804.24L1101.89 804.24L1118.04 816.99L1134.19 816.99L1150.33 816.99L1166.48 816.99L1182.62 816.99L1198.77 816.99L1214.91 816.99L1231.06 816.99L1247.21 816.99L1263.35 816.99L1279.50 816.99L1295.64 816.99L1311.79 816.99L1327.94 816.99L1344.08 816.99L1360.23 1024.88L1376.37 1024.88L1392.52 1024.88L1408.66 1024.88L1424.81 1024.88L1440.96 1024.88L1457.10 1024.88L1473.25 1024.88L1489.39 1024.88L1505.54 1024.88L1521.68 1024.88L1537.83 1024.88L1553.98 1024.88L1570.12 819.98L1586.27 819.98L1586.27 1140.50Z" fill="#29275d"/>
<path d="M117.00 925.18L133.15 925.18L149.29 925.18L165.44 925.18L181.58 925.18L197.73 925.18L213.87 886.95L230.02 886.95L246.17 886.95L262.31 886.95L278.46 886.95L294.60 886.95L310.75 886.95L326.90 886.95L343.04 886.95L359.19 886.95L375.33 886.95L391.48 886.95L407.62 886.95L423.77 886.95L439.92 977.90L456.06 977.90L472.21 977.90L488.35 977.90L504.50 977.90L520.64 977.90L536.79 977.90L552.94 977.90L569.08 977.90L585.23 977.90L601.37 977.90L617.52 977.90L633.67 977.90L649.81 977.90L665.96 921.68L682.10 921.68L698.25 921.68L714.39 921.68L730.54 921.68L746.69 921.68L762.83 921.68L778.98 921.68L795.12 921.68L811.27 921.68L827.42 921.68L843.56 921.68L859.71 921.68L875.85 921.68L892.00 804.24L908.14 804.24L924.29 804.24L940.44 804.24L956.58 804.24L972.73 804.24L988.87 804.24L1005.02 804.24L1021.16 804.24L1037.31 804.24L1053.46 804.24L1069.60 804.24L1085.75 804.24L1101.89 804.24L1118.04 816.99L1134.19 816.99L1150.33 816.99L1166.48 816.99L1182.62 816.99L1198.77 816.99L1214.91 816.99L1231.06 816.99L1247.21 816.99L1263.35 816.99L1279.50 816.99L1295.64 816.99L1311.79 816.99L1327.94 816.99L1344.08 816.99L1360.23 1024.88L1376.37 1024.88L1392.52 1024.88L1408.66 1024.88L1424.81 1024.88L1440.96 1024.88L1457.10 1024.88L1473.25 1024.88L1489.39 1024.88L1505.54 1024.88L1521.68 1024.88L1537.83 1024.88L1553.98 1024.88L1570.12 819.98L1586.27 819.98V1140.5" fill="none" stroke="#3a3a9e" stroke-width="1.5" stroke-linejoin="round"/>
</g>
<path d="M117.0 800.50H1667.0" stroke="#fff" stroke-opacity="0.75" stroke-width="1" stroke-dasharray="4.2 1.8" fill="none"/>
<path d="M117.0 894.50H1667.0" stroke="#fff" stroke-opacity="0.75" stroke-width="1" stroke-dasharray="4.2 1.8" fill="none"/>
<path d="M117.0 989.50H1667.0" stroke="#fff" stroke-opacity="0.75" stroke-width="1" stroke-dasharray="4.2 1.8" fill="none"/>
<path d="M117.0 1083.50H1667.0" stroke="#fff" stroke-opacity="0.75" stroke-width="1" stroke-dasharray="4.2 1.8" fill="none"/>
<g clip-path="url(#cp)">
<path d="M117.00 906.19L133.15 899.94L149.29 911.94L165.44 883.70L181.58 869.96L197.73 887.95L213.87 895.45L230.02 972.40L246.17 1007.39L262.31 984.90L278.46 1038.62L294.60 1054.36L310.75 1039.37L326.90 1043.87L343.04 1026.88L359.19 1002.89L375.33 1013.13L391.48 986.40L407.62 993.89L423.77 967.91L439.92 925.43L456.06 919.93L472.21 877.45L488.35 900.69L504.50 875.71L520.64 846.72L536.79 886.20L552.94 911.94L569.08 899.44L585.23 941.17L601.37 959.91L617.52 967.91L633.67 991.40L649.81 996.14L665.96 1006.89L682.10 978.65L698.25 981.65L714.39 947.42L730.54 941.17L746.69 926.93L762.83 894.95L778.98 896.69L795.12 913.44L811.27 896.69L827.42 904.44L843.56 874.46L859.71 860.46L875.85 856.97L892.00 811.99L908.14 834.48L924.29 851.47L940.44 842.47L956.58 893.20L972.73 924.93L988.87 949.92L1005.02 979.90L1021.16 947.42L1037.31 935.42L1053.46 889.95L1069.60 864.96L1085.75 841.22L1101.89 824.98L1118.04 814.49L1134.19 840.97L1150.33 837.48L1166.48 918.68L1182.62 921.93L1198.77 962.41L1214.91 949.92L1231.06 969.41L1247.21 1018.63L1263.35 1083.85L1279.50 1086.35L1295.64 1076.60L1311.79 1031.12L1327.94 1089.84L1344.08 1078.85L1360.23 997.39L1376.37 949.92L1392.52 935.42L1408.66 946.17L1424.81 969.41L1440.96 916.18L1457.10 919.93L1473.25 932.93L1489.39 923.68L1505.54 913.69L1521.68 889.95L1537.83 862.96L1553.98 876.21L1570.12 874.46L1586.27 892.45" fill="none" stroke="#ffff00" stroke-width="4" stroke-linejoin="round" stroke-linecap="square"/>
<path d="M117.00 954.91L133.15 946.17L149.29 941.17L165.44 936.67L181.58 933.68L197.73 936.67L213.87 937.42L230.02 944.42L246.17 948.92L262.31 942.92L278.46 950.67L294.60 944.42L310.75 941.42L326.90 935.42L343.04 947.92L359.19 947.92L375.33 956.41L391.48 967.91L407.62 970.91L423.77 964.41L439.92 958.66L456.06 954.91L472.21 943.17L488.35 948.92L504.50 947.42L520.64 954.41L536.79 961.16L552.94 958.41L569.08 959.91L585.23 964.16L601.37 968.91L617.52 967.91L633.67 961.16L649.81 957.91L665.96 964.16L682.10 942.92L698.25 943.42L714.39 942.92L730.54 939.42L746.69 931.93L762.83 927.43L778.98 931.93L795.12 922.43L811.27 916.18L827.42 924.93L843.56 924.93L859.71 914.93L875.85 921.93L892.00 906.94L908.14 909.94L924.29 917.43L940.44 912.44L956.58 919.93L972.73 922.43L988.87 924.18L1005.02 912.44L1021.16 904.94L1037.31 901.69L1053.46 883.70L1069.60 881.20L1085.75 883.95L1101.89 880.45L1118.04 875.46L1134.19 876.95L1150.33 876.95L1166.48 890.45L1182.62 887.95L1198.77 897.44L1214.91 894.95L1231.06 892.95L1247.21 916.18L1263.35 938.67L1279.50 953.66L1295.64 962.41L1311.79 952.42L1327.94 961.91L1344.08 959.41L1360.23 946.17L1376.37 946.67L1392.52 949.92L1408.66 952.92L1424.81 957.91L1440.96 956.16L1457.10 967.41L1473.25 963.66L1489.39 969.41L1505.54 975.40L1521.68 974.90L1537.83 964.91L1553.98 967.91L1570.12 954.91L1586.27 955.41" fill="none" stroke="#ff0fa0" stroke-width="4" stroke-linejoin="round" stroke-linecap="square"/>
</g>
<path d="M148 825.8H218" stroke="#3a3a9e" stroke-width="1.5"/>
<path d="M771 1090H845.2" stroke="#ffff00" stroke-width="4"/>
<path d="M1226 1090H1300.2" stroke="#ff0fa0" stroke-width="4"/>
<path d="M115.5 421.50H1669.0" stroke="#000" stroke-opacity="0.3" stroke-width="5"/>
<path d="M116.0 421.50H1668.5" stroke="#c6c6c6" stroke-width="3"/>
<path d="M115.5 781.50H1669.0" stroke="#000" stroke-opacity="0.3" stroke-width="5"/>
<path d="M116.0 781.50H1668.5" stroke="#c6c6c6" stroke-width="3"/>
<path d="M115.5 1140.50H1669.0" stroke="#000" stroke-opacity="0.3" stroke-width="5"/>
<path d="M116.0 1140.50H1668.5" stroke="#c6c6c6" stroke-width="3"/>
<path d="M117.50 1142.00v3.8" stroke="#000" stroke-width="1.3"/>
<path d="M440.42 1142.00v3.8" stroke="#000" stroke-width="1.3"/>
<path d="M763.33 1142.00v3.8" stroke="#000" stroke-width="1.3"/>
<path d="M1086.25 1142.00v3.8" stroke="#000" stroke-width="1.3"/>
<path d="M1409.16 1142.00v3.8" stroke="#000" stroke-width="1.3"/>
<text id="y18" x="1678.00" y="76.30" font-size="36.5" textLength="193.20" lengthAdjust="spacingAndGlyphs" stroke="#1a1a1a" stroke-width="0.6">18,000,000</text>
<text id="y16" x="1678.00" y="166.30" font-size="36.5" textLength="193.20" lengthAdjust="spacingAndGlyphs" stroke="#1a1a1a" stroke-width="0.6">16,000,000</text>
<text id="y14" x="1678.00" y="256.30" font-size="36.5" textLength="193.20" lengthAdjust="spacingAndGlyphs" stroke="#1a1a1a" stroke-width="0.6">14,000,000</text>
<text id="y12" x="1678.00" y="346.30" font-size="36.5" textLength="193.20" lengthAdjust="spacingAndGlyphs" stroke="#1a1a1a" stroke-width="0.6">12,000,000</text>
<text id="y10" x="1678.00" y="436.30" font-size="36.5" textLength="193.20" lengthAdjust="spacingAndGlyphs" stroke="#1a1a1a" stroke-width="0.6">10,000,000</text>
<text id="f1" x="1678.00" y="516.20" font-size="36.5" textLength="68.80" lengthAdjust="spacingAndGlyphs" stroke="#1a1a1a" stroke-width="0.6">0.01</text>
<text id="f0" x="1678.00" y="616.40" font-size="36.5" textLength="73.50" lengthAdjust="spacingAndGlyphs" stroke="#1a1a1a" stroke-width="0.6">0.00</text>
<text id="fm" x="1676.50" y="715.10" font-size="36.5" textLength="92.40" lengthAdjust="spacingAndGlyphs" stroke="#1a1a1a" stroke-width="0.6">−0.01</text>
<text id="h950" x="1676.40" y="814.80" font-size="36.0" textLength="197.40" lengthAdjust="spacingAndGlyphs" stroke="#1a1a1a" stroke-width="0.6">950Ehash/s</text>
<text id="h900" x="1676.40" y="909.30" font-size="36.0" textLength="197.40" lengthAdjust="spacingAndGlyphs" stroke="#1a1a1a" stroke-width="0.6">900Ehash/s</text>
<text id="h850" x="1676.40" y="1003.80" font-size="36.0" textLength="197.40" lengthAdjust="spacingAndGlyphs" stroke="#1a1a1a" stroke-width="0.6">850Ehash/s</text>
<text id="h800" x="1676.40" y="1098.30" font-size="36.0" textLength="197.40" lengthAdjust="spacingAndGlyphs" stroke="#1a1a1a" stroke-width="0.6">800Ehash/s</text>
<text id="lg1" x="245.90" y="479.40" font-size="33.0" textLength="242.20" lengthAdjust="spacing">先物資金調達率</text>
<text id="lg2" x="245.40" y="838.40" font-size="33.0" textLength="275.20" lengthAdjust="spacing">ディフィカルティ</text>
<text id="lg3" x="870.70" y="1102.70" font-size="33.0" textLength="287.10" lengthAdjust="spacing">ハッシュレート(7)</text>
<text id="lg4" x="1326.10" y="1102.70" font-size="33.0" textLength="309.20" lengthAdjust="spacing">ハッシュレート(25)</text>
<text id="x0" transform="translate(116.4 1195.4) rotate(-30)" text-anchor="middle" font-size="28.6" y="10" letter-spacing="0.90"><tspan letter-spacing="2.30" stroke="#1a1a1a" stroke-width="0.5">03</tspan>月 <tspan letter-spacing="2.30" stroke="#1a1a1a" stroke-width="0.5">13</tspan>日</text>
<text id="x1" transform="translate(439.3 1195.4) rotate(-30)" text-anchor="middle" font-size="28.6" y="10" letter-spacing="0.90"><tspan letter-spacing="2.30" stroke="#1a1a1a" stroke-width="0.5">04</tspan>月 <tspan letter-spacing="2.30" stroke="#1a1a1a" stroke-width="0.5">02</tspan>日</text>
<text id="x2" transform="translate(762.2 1195.4) rotate(-30)" text-anchor="middle" font-size="28.6" y="10" letter-spacing="0.90"><tspan letter-spacing="2.30" stroke="#1a1a1a" stroke-width="0.5">04</tspan>月 <tspan letter-spacing="2.30" stroke="#1a1a1a" stroke-width="0.5">22</tspan>日</text>
<text id="x3" transform="translate(1085.1 1195.4) rotate(-30)" text-anchor="middle" font-size="28.6" y="10" letter-spacing="0.90"><tspan letter-spacing="2.30" stroke="#1a1a1a" stroke-width="0.5">05</tspan>月 <tspan letter-spacing="2.30" stroke="#1a1a1a" stroke-width="0.5">12</tspan>日</text>
<text id="x4" transform="translate(1408.1 1195.4) rotate(-30)" text-anchor="middle" font-size="28.6" y="10" letter-spacing="0.90"><tspan letter-spacing="2.30" stroke="#1a1a1a" stroke-width="0.5">06</tspan>月 <tspan letter-spacing="2.30" stroke="#1a1a1a" stroke-width="0.5">01</tspan>日</text>
</svg></body></html>
